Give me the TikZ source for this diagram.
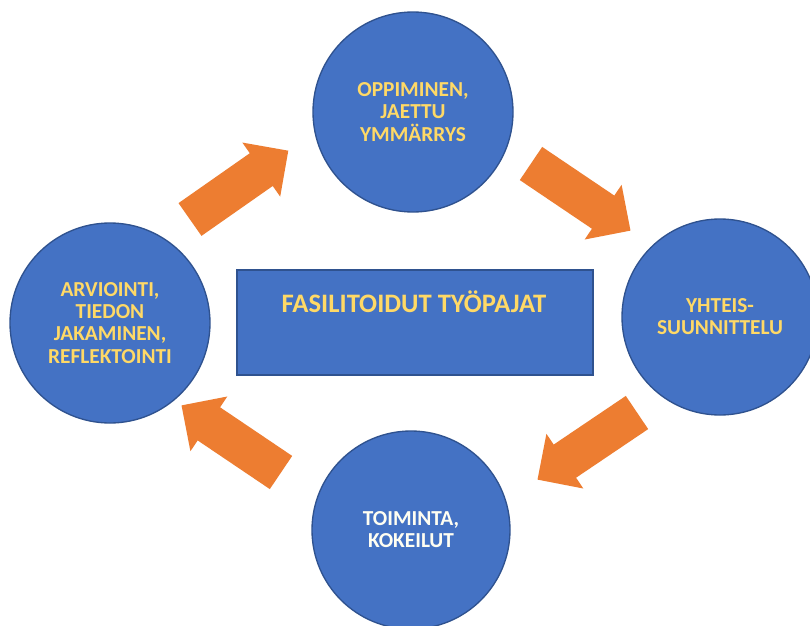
\documentclass[tikz,border=0pt]{standalone}
\usepackage{fontspec}
\setmainfont{Carlito}
\definecolor{cycleblue}{HTML}{4472C4}
\definecolor{cycleedge}{HTML}{2F528F}
\definecolor{cycleorange}{HTML}{ED7D31}
\definecolor{cycletext}{HTML}{FFD966}
\begin{document}
\begin{tikzpicture}[x=0.75pt,y=-0.75pt,
  stage/.style={circle,fill=cycleblue,draw=cycleedge,line width=1pt,
    inner sep=0pt,align=center,text=cycletext,
    font=\bfseries\fontsize{16}{16.6}\selectfont},
  centrebox/.style={rectangle,fill=cycleblue,draw=cycleedge,line width=1.6pt,
    inner sep=0pt,minimum width=267pt,minimum height=78.75pt},
  titletext/.style={text=cycletext,inner sep=0pt,
    font=\bfseries\fontsize{20}{22}\selectfont},
  pics/blockarrow/.style={code={
    \fill[cycleorange] (0,-20) -- (87,-20) -- (87,-33) -- (120,0)
      -- (87,33) -- (87,20) -- (0,20) -- cycle;}}]
\clip (0,0) rectangle (810,625);
\fill[white] (0,0) rectangle (810,625);

% the four stages of the cycle
\node[stage,minimum size=150pt] (learn) at (413,112)
  {OPPIMINEN,\\JAETTU\\YMMÄRRYS};
\node[stage,minimum size=147pt] (plan) at (720,317)
  {YHTEIS-\\SUUNNITTELU};
\node[stage,minimum size=148.5pt,text=white!95!yellow] (act) at (411,530)
  {TOIMINTA,\\KOKEILUT};
\node[stage,minimum size=150pt] (assess) at (110,323)
  {ARVIOINTI,\\TIEDON\\JAKAMINEN,\\REFLEKTOINTI};

% centre panel
\node[centrebox] (panel) at (415,322.5) {};
\node[titletext,anchor=base] (title) at (414,312) {FASILITOIDUT TYÖPAJAT};

% block arrows running clockwise between the stages
\pic[rotate=35] at (190,219.5) {blockarrow};
\pic[rotate=-34] at (531,163.5) {blockarrow};
\pic[rotate=214] at (637,412.5) {blockarrow};
\pic[rotate=146] at (281,472.5) {blockarrow};
\end{tikzpicture}
\end{document}
